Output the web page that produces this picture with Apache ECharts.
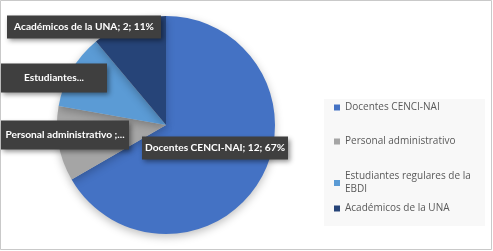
<!DOCTYPE html>
<html>
<head>
<meta charset="utf-8">
<script src="https://cdn.jsdelivr.net/npm/echarts@6/dist/echarts.min.js"></script>
<style>html,body{margin:0;padding:0;background:#fff;}#c{width:493px;height:251px;}</style>
</head>
<body>
<div id="c"></div>
<script>
const categories = ['Docentes CENCI-NAI', 'Personal administrativo', 'Estudiantes regulares de la EBDI', 'Académicos de la UNA'];
const values = [12, 2, 2, 2];
const legendTexts = ['Docentes CENCI-NAI', 'Personal administrativo', 'Estudiantes regulares de la\nEBDI', 'Académicos de la UNA'];
const truncatedLabels = [null, 'Personal administrativo ;...', 'Estudiantes...', null];
const colors = ['#4472C4', '#A5A5A5', '#5B9BD5', '#264478'];

// label box layout (positions/styles, not data)
const labelPos = [[215, 148], [65, 135], [54, 78], [84, 27]];
const labelBox = [
  {width: 130, padding: [5, 8]},
  {width: 112, padding: [8, 8]},
  {width: 90, padding: [8, 8]},
  {width: 138, padding: [5, 8]}
];
const legendTops = [101, 135, 170, 202];

const chart = echarts.init(document.getElementById('c'), null, {renderer: 'canvas'});

const data = categories.map((n, i) => ({
  name: n,
  value: values[i],
  itemStyle: {color: colors[i]},
  label: {width: labelBox[i].width, padding: labelBox[i].padding}
}));

const legends = categories.map((n, i) => ({
  data: [n],
  orient: 'vertical',
  left: 334,
  top: legendTops[i],
  itemWidth: 6,
  itemHeight: 6,
  icon: 'rect',
  padding: 0,
  selectedMode: false,
  formatter: () => legendTexts[i],
  textStyle: {color: '#595959', fontSize: 10, fontFamily: 'Open Sans', lineHeight: 13}
}));

chart.setOption({
  animation: false,
  backgroundColor: '#ffffff',
  graphic: [
    {type: 'rect', shape: {x: 0.5, y: 0.5, width: 491, height: 249}, style: {fill: 'none', stroke: '#C9C9C9', lineWidth: 1}, z: 0},
    {type: 'rect', shape: {x: 324, y: 99, width: 161, height: 127}, style: {fill: '#F8F8F8'}, z: 0}
  ],
  legend: legends,
  series: [{
    type: 'pie',
    center: [166, 125],
    radius: 109,
    startAngle: 90,
    clockwise: true,
    data: data,
    itemStyle: {shadowBlur: 8, shadowColor: 'rgba(0,0,0,0.25)', shadowOffsetY: 3},
    emphasis: {disabled: true},
    labelLine: {show: false},
    label: {
      show: true,
      position: 'outside',
      formatter: p => truncatedLabels[p.dataIndex] || (p.name + '; ' + p.value + '; ' + Math.round(p.percent) + '%'),
      color: '#ffffff',
      fontWeight: 'bold',
      fontFamily: 'Lato',
      fontSize: 10.2,
      lineHeight: 13,
      align: 'center',
      backgroundColor: '#3F3F3F',
      shadowColor: 'rgba(0,0,0,0.45)',
      shadowBlur: 5,
      shadowOffsetX: 2,
      shadowOffsetY: 2,
      overflow: 'none'
    },
    labelLayout: p => ({x: labelPos[p.dataIndex][0], y: labelPos[p.dataIndex][1], align: 'center', verticalAlign: 'middle'})
  }]
});
</script>
</body>
</html>
